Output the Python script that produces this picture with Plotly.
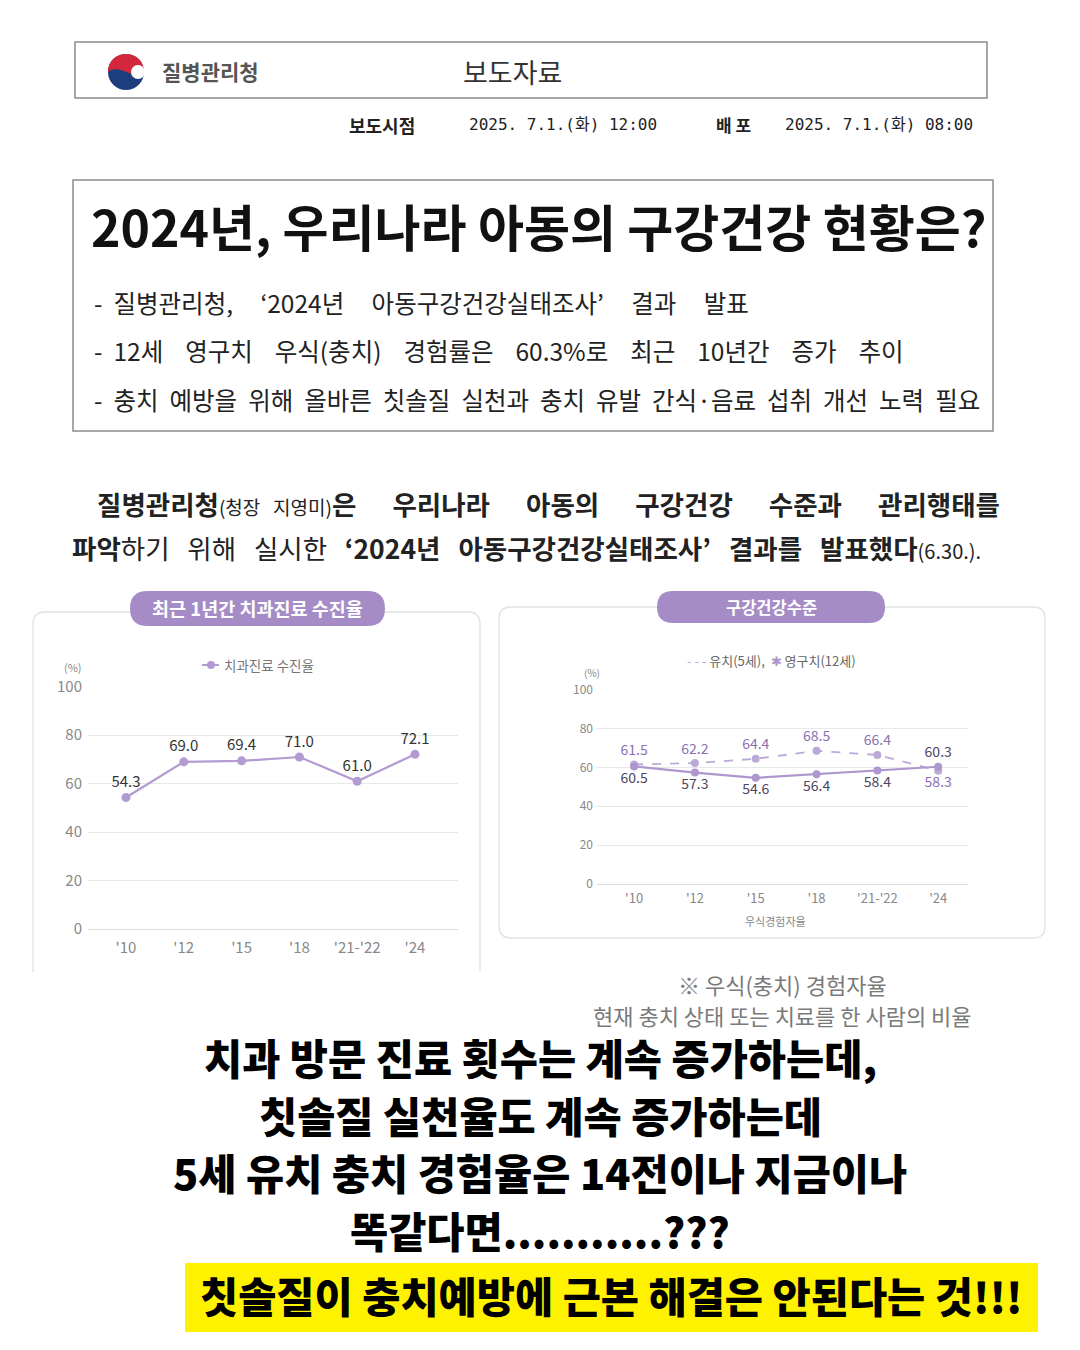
import plotly.graph_objects as go

# ---------------- data ----------------
years = ["'10", "'12", "'15", "'18", "'21-'22", "'24"]
visit_rate = [54.3, 69.0, 69.4, 71.0, 61.0, 72.1]          # 치과진료 수진율
primary_5 = [61.5, 62.2, 64.4, 68.5, 66.4, 58.3]            # 유치(5세)
permanent_12 = [60.5, 57.3, 54.6, 56.4, 58.4, 60.3]         # 영구치(12세)
y_ticks = [0, 20, 40, 60, 80, 100]

W, H = 1080, 1350
FONT = "Noto Sans CJK KR"
MONO = "DejaVu Sans Mono, Noto Sans CJK KR"


def X(px):
    return px / W


def Y(py):
    return 1 - py / H


def rrect(x0, y0, x1, y1, r, open_bottom=False):
    if open_bottom:
        return (f"M {X(x0)},{Y(y1)} L {X(x0)},{Y(y0 + r)} Q {X(x0)},{Y(y0)} {X(x0 + r)},{Y(y0)} "
                f"L {X(x1 - r)},{Y(y0)} Q {X(x1)},{Y(y0)} {X(x1)},{Y(y0 + r)} L {X(x1)},{Y(y1)}")
    return (f"M {X(x0 + r)},{Y(y0)} L {X(x1 - r)},{Y(y0)} Q {X(x1)},{Y(y0)} {X(x1)},{Y(y0 + r)} "
            f"L {X(x1)},{Y(y1 - r)} Q {X(x1)},{Y(y1)} {X(x1 - r)},{Y(y1)} "
            f"L {X(x0 + r)},{Y(y1)} Q {X(x0)},{Y(y1)} {X(x0)},{Y(y1 - r)} "
            f"L {X(x0)},{Y(y0 + r)} Q {X(x0)},{Y(y0)} {X(x0 + r)},{Y(y0)} Z")


annotations = []
shapes = []


def ann(text, x, y, size, color="#222", xanchor="center", bold=False, weight=None, family=FONT):
    f = dict(family=family, size=size, color=color)
    if weight is not None:
        f["weight"] = weight
    elif bold:
        f["weight"] = "bold"
    annotations.append(dict(text=text, x=X(x), y=Y(y), xref="paper", yref="paper",
                            showarrow=False, xanchor=xanchor, yanchor="middle", font=f))


def rect(x0, y0, x1, y1, line="#8c8c8c", width=1.5, fill="rgba(0,0,0,0)", layer="below"):
    shapes.append(dict(type="rect", xref="paper", yref="paper", x0=X(x0), x1=X(x1),
                       y0=Y(y1), y1=Y(y0), line=dict(color=line, width=width),
                       fillcolor=fill, layer=layer))


def pathshape(p, line="#e3e3e3", width=1.2, fill="rgba(0,0,0,0)", layer="below"):
    shapes.append(dict(type="path", xref="paper", yref="paper", path=p,
                       line=dict(color=line, width=width), fillcolor=fill, layer=layer))


NB = "\u00a0"


def spaced(s, n):
    return s.replace(" ", NB * n)


# ---------------- header ----------------
rect(75, 42, 987, 98)
# logo
shapes.append(dict(type="circle", xref="paper", yref="paper", x0=X(108), x1=X(144),
                    y0=Y(90), y1=Y(54), line=dict(width=0), fillcolor="#1d3e7c", layer="above"))
pathshape(f"M {X(108)},{Y(72)} C {X(108)},{Y(48)} {X(144)},{Y(48)} {X(144)},{Y(72)} "
          f"C {X(137)},{Y(84)} {X(121)},{Y(62)} {X(108)},{Y(72)} Z",
          line="rgba(0,0,0,0)", width=0, fill="#d3283b", layer="above")
shapes.append(dict(type="circle", xref="paper", yref="paper", x0=X(131), x1=X(145),
                    y0=Y(79), y1=Y(65), line=dict(width=0), fillcolor="white", layer="above"))
ann("질병관리청", 160, 71, 21, "#555", "left", bold=True)
ann("보도자료", 512, 71, 27, "#333")

ann("보도시점", 347, 125, 18, "#222", "left", bold=True)
ann("2025. 7.1.(화) 12:00", 467, 125, 16, "#222", "left", family=MONO)
ann("배" + NB + "포", 714, 125, 17, "#222", "left", bold=True)
ann("2025. 7.1.(화) 08:00", 783, 125, 16, "#222", "left", family=MONO)

# ---------------- title box ----------------
rect(73, 180, 993, 431)
ann("2024년, 우리나라 아동의 구강건강 현황은?", 538, 225, 50, "#111", bold=True)
ann("-" + NB * 2 + spaced("질병관리청, ‘2024년 아동구강건강실태조사’ 결과 발표", 5), 92, 302, 24.5, "#222", "left")
ann("-" + NB * 2 + spaced("12세 영구치 우식(충치) 경험률은 60.3%로 최근 10년간 증가 추이", 4), 92, 350, 24.5, "#222", "left")
ann("-" + NB * 2 + spaced("충치 예방을 위해 올바른 칫솔질 실천과 충치 유발 간식·음료 섭취 개선 노력 필요", 2), 92, 399, 24.5, "#222", "left")

# ---------------- paragraph ----------------
s6 = NB * 6
s3 = NB * 3
ann(f"<b>질병관리청</b><span style='font-size:19px'>(청장{NB * 3}지영미)</span><b>은{s6}우리나라{s6}아동의{s6}구강건강{s6}수준과{s6}관리행태를</b>",
    95, 503, 26.5, "#222", "left")
ann(f"<b>파악</b>하기{s3}위해{s3}실시한{s3}<b>‘2024년{s3}아동구강건강실태조사’{s3}결과를{s3}발표했다</b><span style='font-size:20px'>(6.30.).</span>",
    70, 547, 26.5, "#222", "left")

# ---------------- chart panels ----------------
PURPLE = "#a68cc6"
pathshape(rrect(33, 612, 480, 972, 12, open_bottom=True), line="#e2e2e2", width=1.3, fill="white")
pathshape(rrect(499, 607, 1045, 938, 12), line="#e2e2e2", width=1.3, fill="white")
pathshape(rrect(130, 591, 385, 626, 17.5), line=PURPLE, width=0, fill=PURPLE, layer="above")
pathshape(rrect(657, 591, 885, 623, 16), line=PURPLE, width=0, fill=PURPLE, layer="above")
ann("최근 1년간 치과진료 수진율", 257, 608, 18.5, "white", bold=True)
ann("구강건강수준", 771, 607, 16.5, "white", bold=True)

# left legend
LINE_L = "#b39bd2"
shapes.append(dict(type="line", xref="paper", yref="paper", x0=X(202), x1=X(219), y0=Y(665), y1=Y(665),
                   line=dict(color=LINE_L, width=2), layer="above"))
shapes.append(dict(type="circle", xref="paper", yref="paper", x0=X(207), x1=X(215), y0=Y(669), y1=Y(661),
                   line=dict(width=0), fillcolor=LINE_L, layer="above"))
ann("치과진료 수진율", 222, 665, 13.5, "#777", "left")
ann("(%)", 73, 667, 11, "#888")

# right legend
DASH_C = "#bca9d8"
SOLID_C = "#ae97cd"
ann(f"<span style='color:{DASH_C}'>- - -</span> 유치(5세),  <span style='color:{SOLID_C}'>✱</span> 영구치(12세)",
    685, 660, 13, "#666", "left")
ann("(%)", 592, 672, 10, "#888")
ann("우식경험자율", 775, 921, 11, "#888")

# notes
ann("※ 우식(충치) 경험자율", 782, 984, 22, "#7a7a7a")
ann("현재 충치 상태 또는 치료를 한 사람의 비율", 782, 1015, 22, "#7a7a7a")

# ---------------- bottom commentary ----------------
BIG = 41.5
ann("치과 방문 진료 횟수는 계속 증가하는데,", 540, 1057, BIG, "#000", weight=900)
ann("칫솔질 실천율도 계속 증가하는데", 540, 1115, BIG, "#000", weight=900)
ann("5세 유치 충치 경험율은 14전이나 지금이나", 540, 1172, BIG, "#000", weight=900)
ann("똑같다면...........???", 540, 1230, BIG, "#000", weight=900)
rect(185, 1263, 1038, 1332, line="#fff200", width=0, fill="#fff200", layer="below")
ann("칫솔질이 충치예방에 근본 해결은 안된다는 것!!!", 611, 1295, BIG, "#000", weight=900)

# ---------------- traces ----------------
xs = list(range(len(years)))
fig = go.Figure()
fig.add_trace(go.Scatter(
    x=xs, y=visit_rate, mode="lines+markers+text", xaxis="x", yaxis="y",
    line=dict(color=LINE_L, width=2.2), marker=dict(color=LINE_L, size=9),
    text=[f"{v:.1f}" for v in visit_rate], textposition="top center",
    textfont=dict(family=FONT, size=15, color="#333"), cliponaxis=False, showlegend=False,
    hoverinfo="skip"))

pos_p = ["top center"] * 5 + ["bottom center"]
pos_q = ["bottom center"] * 5 + ["top center"]
fig.add_trace(go.Scatter(
    x=xs, y=primary_5, mode="lines+markers+text", xaxis="x2", yaxis="y2",
    line=dict(color=DASH_C, width=1.8, dash="dash"), marker=dict(color=DASH_C, size=8),
    text=[f"{v:.1f}" for v in primary_5], textposition=pos_p,
    textfont=dict(family=FONT, size=14, color="#8a70b3"), cliponaxis=False, showlegend=False,
    hoverinfo="skip"))
fig.add_trace(go.Scatter(
    x=xs, y=permanent_12, mode="lines+markers+text", xaxis="x2", yaxis="y2",
    line=dict(color=SOLID_C, width=2.2), marker=dict(color=SOLID_C, size=8),
    text=[f"{v:.1f}" for v in permanent_12], textposition=pos_q,
    textfont=dict(family=FONT, size=14, color="#4e4560"), cliponaxis=False, showlegend=False,
    hoverinfo="skip"))

axis_common_y = dict(range=[0, 100.3], tickvals=y_ticks, showgrid=True, gridcolor="#e8e8e8",
                     gridwidth=1, zeroline=True, zerolinecolor="#dcdcdc", zerolinewidth=1,
                     showline=False, ticks="", fixedrange=True, automargin=False)

fig.update_layout(
    width=W, height=H, margin=dict(l=0, r=0, t=0, b=0, pad=0, autoexpand=False),
    paper_bgcolor="white", plot_bgcolor="rgba(0,0,0,0)",
    font=dict(family=FONT),
    xaxis=dict(domain=[X(88), X(458)], range=[-0.657, 5.744], tickvals=xs, ticktext=years,
               showgrid=False, zeroline=False, showline=False, ticks="", automargin=False,
               tickfont=dict(size=15, color="#888"), ticklabelstandoff=8, anchor="y"),
    yaxis=dict(domain=[Y(929), Y(686)], tickfont=dict(size=15, color="#888"),
               ticklabelstandoff=5, anchor="x", **axis_common_y),
    xaxis2=dict(domain=[X(597), X(968)], range=[-0.61, 5.49], tickvals=xs, ticktext=years,
                showgrid=False, zeroline=False, showline=False, ticks="", automargin=False,
                tickfont=dict(size=13, color="#888"), ticklabelstandoff=5, anchor="y2"),
    yaxis2=dict(domain=[Y(884), Y(689)], tickfont=dict(size=12, color="#888"),
                ticklabelstandoff=3, anchor="x2", **axis_common_y),
    annotations=annotations, shapes=shapes,
)

fig.write_html("out.html")
